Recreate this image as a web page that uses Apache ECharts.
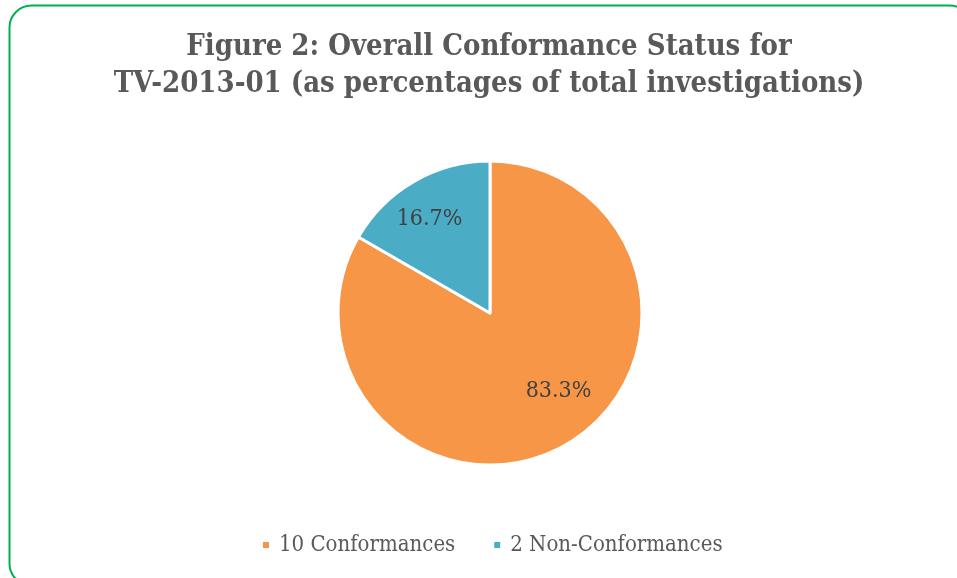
<html>
<head>
<meta charset="utf-8">
<script src="https://cdn.jsdelivr.net/npm/echarts@6/dist/echarts.min.js"></script>
<style>
html, body { margin: 0; padding: 0; background: #fff; }
#main { width: 957px; height: 578px; }
</style>
</head>
<body>
<div id="main"></div>
<script>
// chart data
var categories = ['10 Conformances', '2 Non-Conformances'];
var counts = [10, 2];
var colors = ['#F79646', '#4BACC6'];

// label nudges to sit where the original puts them
var labelOffsets = [[29, 10], [-21, -26]];

var titleLines = ['Figure 2: Overall Conformance Status for', 'TV-2013-01 (as percentages of total investigations)'];
var fontFam = '"DejaVu Serif Condensed", "DejaVu Serif", serif';

var seriesData = [];
for (var i = 0; i < counts.length; i++) {
	seriesData.push({
		name: categories[i],
		value: counts[i],
		itemStyle: { color: colors[i] },
		label: { offset: labelOffsets[i] }
	});
}

var chart = echarts.init(document.getElementById('main'), null, { renderer: 'canvas' });
chart.setOption({
	backgroundColor: '#fff',
	animation: false,
	title: {
		text: titleLines.join('\n'),
		left: 484,          // title sits a little right of the middle, like the original
		textAlign: 'center',
		top: 24,
		textStyle: {
			fontFamily: fontFam,
			fontWeight: 'bold',
			fontSize: 29,
			lineHeight: 37,
			color: '#595959'
		}
	},
	legend: {
		bottom: 17,
		left: 256,
		icon: 'rect',
		itemWidth: 8,
		itemHeight: 8,
		itemGap: 37,
		data: categories,
		textStyle: { fontFamily: fontFam, fontSize: 22, color: '#595959', padding: [0, 0, 0, 4] }
	},
	graphic: [{
		type: 'rect',
		shape: { x: 9.5, y: 5.5, width: 962, height: 580, r: 22 },
		style: { fill: 'none', stroke: '#00B050', lineWidth: 2 },
		silent: true
	}],
	series: [{
		type: 'pie',
		center: [490, 313],
		radius: [0, 152],
		startAngle: 90,
		clockwise: true,
		itemStyle: { borderColor: '#fff', borderWidth: 3 },
		label: {
			show: true,
			position: 'inside',
			formatter: function (p) { return p.percent.toFixed(1) + '%'; },
			fontFamily: fontFam,
			fontSize: 23,
			color: '#404040'
		},
		labelLine: { show: false },
		emphasis: { disabled: true },
		data: seriesData
	}]
});
</script>
</body>
</html>
